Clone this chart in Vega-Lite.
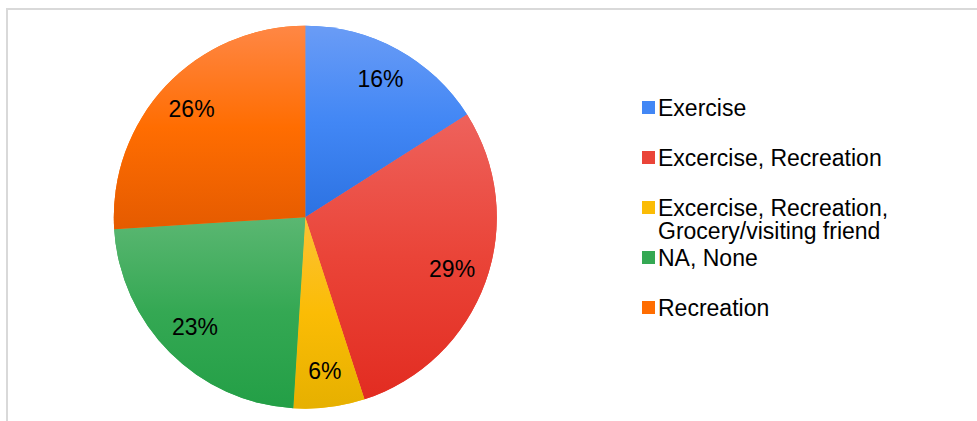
{
  "$schema": "https://vega.github.io/schema/vega-lite/v6.json",
  "width": 980,
  "height": 420,
  "autosize": {"type": "none"},
  "padding": {"left": 7, "top": 9, "right": 0, "bottom": 0},
  "background": "white",
  "config": {"view": {"stroke": "#d9d9d9", "strokeWidth": 2}},
  "data": {
    "values": [
      {"category": "Exercise", "share": 16, "k": 1, "label": "16%"},
      {"category": "Excercise, Recreation", "share": 29, "k": 2, "label": "29%"},
      {"category": "Excercise, Recreation, Grocery/visiting friend", "share": 6, "k": 3, "label": "6%"},
      {"category": "NA, None", "share": 23, "k": 4, "label": "23%"},
      {"category": "Recreation", "share": 26, "k": 5, "label": "26%"}
    ]
  },
  "transform": [
    {"stack": "share", "groupby": [], "sort": [{"field": "k", "order": "ascending"}], "as": ["t0", "t1"]}
  ],
  "layer": [
    {
      "mark": {"type": "point", "opacity": 0},
      "encoding": {
        "x": {"field": "k", "type": "quantitative", "axis": null},
        "y": {"field": "share", "type": "quantitative", "axis": null}
      }
    },
    {
      "mark": {"type": "arc", "outerRadius": 191.5, "x": 298.3, "y": 208.2},
      "encoding": {
        "theta": {"field": "t0", "type": "quantitative", "scale": {"domain": [0, 100]}},
        "theta2": {"field": "t1"},
        "color": {
          "field": "category",
          "type": "nominal",
          "scale": {
            "domain": ["Exercise", "Excercise, Recreation", "Excercise, Recreation, Grocery/visiting friend", "NA, None", "Recreation"],
            "range": ["#4287f5", "#ea4438", "#fbbc05", "#34a853", "#ff6d01"]
          },
          "legend": {
            "orient": "none",
            "legendX": 630,
            "legendY": 87,
            "title": null,
            "padding": 0,
            "symbolType": "square",
            "symbolSize": 169,
            "symbolStrokeWidth": 0,
            "labelFont": "Liberation Sans",
            "labelFontSize": 23,
            "labelColor": "black",
            "labelOffset": -2,
            "labelLimit": 400,
            "labelBaseline": "alphabetic",
            "rowPadding": 2,
            "labelExpr": "datum.label == 'Excercise, Recreation, Grocery/visiting friend' ? ['Excercise, Recreation,', 'Grocery/visiting friend'] : [datum.label, '']",
            "encode": {"labels": {"update": {"dy": {"value": 8}, "lineHeight": {"value": 23}}}}
          }
        }
      }
    },
    {
      "transform": [{"filter": "datum.k == 1"}],
      "mark": {"type": "arc", "outerRadius": 191.5, "x": 298.3, "y": 208.2,
        "color": {"gradient": "linear", "x1": 0, "y1": 0, "x2": 0, "y2": 1, "stops": [{"offset": 0, "color": "#6a9cf6"}, {"offset": 0.5, "color": "#4287f5"}, {"offset": 1, "color": "#2c72e2"}]}},
      "encoding": {
        "theta": {"field": "t0", "type": "quantitative"},
        "theta2": {"field": "t1"}
      }
    },
    {
      "transform": [{"filter": "datum.k == 2"}],
      "mark": {"type": "arc", "outerRadius": 191.5, "x": 298.3, "y": 208.2,
        "color": {"gradient": "linear", "x1": 0, "y1": 0, "x2": 0, "y2": 1, "stops": [{"offset": 0, "color": "#ee625c"}, {"offset": 0.5, "color": "#ea4438"}, {"offset": 1, "color": "#e22c21"}]}},
      "encoding": {
        "theta": {"field": "t0", "type": "quantitative"},
        "theta2": {"field": "t1"}
      }
    },
    {
      "transform": [{"filter": "datum.k == 3"}],
      "mark": {"type": "arc", "outerRadius": 191.5, "x": 298.3, "y": 208.2,
        "color": {"gradient": "linear", "x1": 0, "y1": 0, "x2": 0, "y2": 1, "stops": [{"offset": 0, "color": "#fcc235"}, {"offset": 0.5, "color": "#fbbc05"}, {"offset": 1, "color": "#e6b000"}]}},
      "encoding": {
        "theta": {"field": "t0", "type": "quantitative"},
        "theta2": {"field": "t1"}
      }
    },
    {
      "transform": [{"filter": "datum.k == 4"}],
      "mark": {"type": "arc", "outerRadius": 191.5, "x": 298.3, "y": 208.2,
        "color": {"gradient": "linear", "x1": 0, "y1": 0, "x2": 0, "y2": 1, "stops": [{"offset": 0, "color": "#5bb772"}, {"offset": 0.5, "color": "#34a853"}, {"offset": 1, "color": "#239f46"}]}},
      "encoding": {
        "theta": {"field": "t0", "type": "quantitative"},
        "theta2": {"field": "t1"}
      }
    },
    {
      "transform": [{"filter": "datum.k == 5"}],
      "mark": {"type": "arc", "outerRadius": 191.5, "x": 298.3, "y": 208.2,
        "color": {"gradient": "linear", "x1": 0, "y1": 0, "x2": 0, "y2": 1, "stops": [{"offset": 0, "color": "#ff8745"}, {"offset": 0.5, "color": "#ff6d01"}, {"offset": 1, "color": "#e55b00"}]}},
      "encoding": {
        "theta": {"field": "t0", "type": "quantitative"},
        "theta2": {"field": "t1"}
      }
    },
    {
      "mark": {"type": "text", "radius": 156, "x": 298.3, "y": 208.2, "font": "Liberation Sans", "fontSize": 23, "fill": "black"},
      "encoding": {
        "theta": {"field": "share", "type": "quantitative", "stack": true},
        "order": {"field": "k", "type": "quantitative"},
        "detail": {"field": "category", "type": "nominal"},
        "text": {"field": "label", "type": "nominal"}
      }
    }
  ]
}
